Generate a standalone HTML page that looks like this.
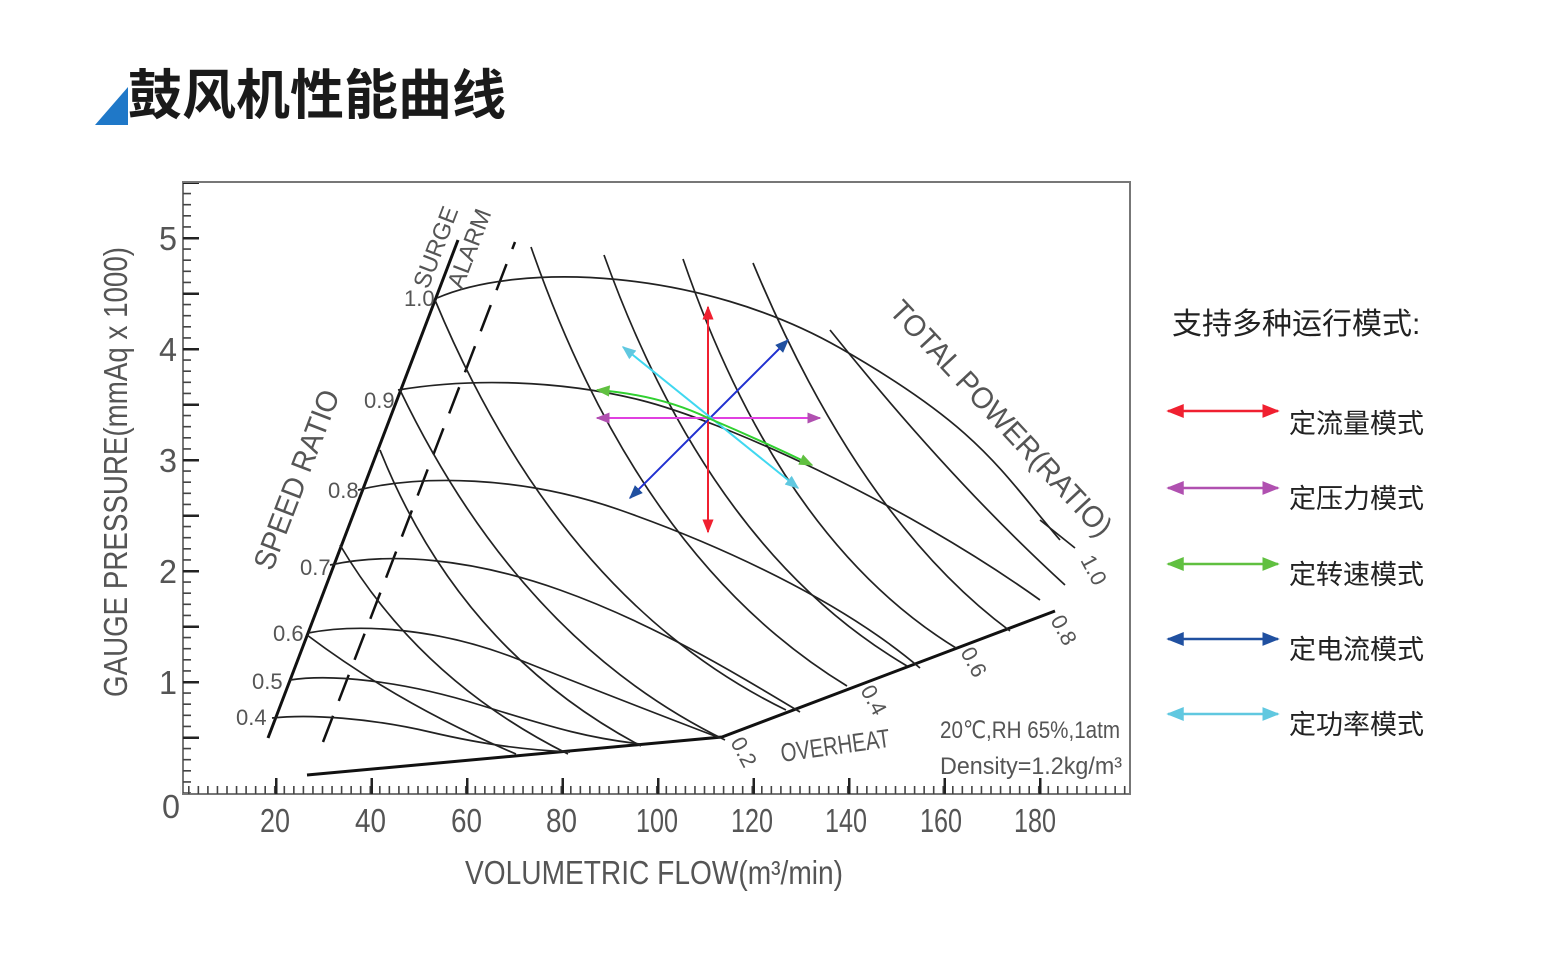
<!DOCTYPE html>
<html><head><meta charset="utf-8"><style>
html,body{margin:0;padding:0;background:#fff;}
svg{display:block}
.ax{font-family:"Liberation Sans","DejaVu Sans",sans-serif;fill:#555;}
</style></head><body>
<svg width="1548" height="972" viewBox="0 0 1548 972" xmlns="http://www.w3.org/2000/svg">
<defs>
<marker id="hr" viewBox="0 0 10 10" refX="9" refY="5" markerWidth="7" markerHeight="7" orient="auto-start-reverse"><path d="M0,1 L10,5 L0,9 Z" fill="#f02030"/></marker>
<marker id="hp" viewBox="0 0 10 10" refX="9" refY="5" markerWidth="7" markerHeight="7" orient="auto-start-reverse"><path d="M0,1 L10,5 L0,9 Z" fill="#b050b0"/></marker>
<marker id="hg" viewBox="0 0 10 10" refX="9" refY="5" markerWidth="7" markerHeight="7" orient="auto-start-reverse"><path d="M0,1 L10,5 L0,9 Z" fill="#60c040"/></marker>
<marker id="hb" viewBox="0 0 10 10" refX="9" refY="5" markerWidth="7" markerHeight="7" orient="auto-start-reverse"><path d="M0,1 L10,5 L0,9 Z" fill="#2050a0"/></marker>
<marker id="hc" viewBox="0 0 10 10" refX="9" refY="5" markerWidth="7" markerHeight="7" orient="auto-start-reverse"><path d="M0,1 L10,5 L0,9 Z" fill="#60c8e0"/></marker>
</defs>

<!-- title -->
<polygon points="95,125 128,87 128,125" fill="#1f78c8"/>
<text x="128" y="114" font-family="'Liberation Sans','Noto Sans CJK SC',sans-serif" font-weight="bold" font-size="54" fill="#1a1a1a">鼓风机性能曲线</text>

<!-- frame -->
<rect x="183" y="182" width="947" height="612" fill="none" stroke="#777" stroke-width="2"/>
<line x1="180" y1="790" x2="1130" y2="790" stroke="#444" stroke-width="8" stroke-dasharray="1.6 7.95" stroke-dashoffset="-8"/>
<line x1="275" y1="786" x2="1130" y2="786" stroke="#222" stroke-width="16" stroke-dasharray="2.5 93"/>
<line x1="187" y1="793" x2="187" y2="183" stroke="#444" stroke-width="8" stroke-dasharray="1.6 9.5" stroke-dashoffset="0.8"/>
<line x1="191" y1="739" x2="191" y2="183" stroke="#222" stroke-width="16" stroke-dasharray="2.5 53"/>

<!-- axis labels -->
<g class="ax" font-size="33" lengthAdjust="spacingAndGlyphs">
<text x="159" y="250" textLength="18" lengthAdjust="spacingAndGlyphs">5</text>
<text x="159" y="361" textLength="18" lengthAdjust="spacingAndGlyphs">4</text>
<text x="159" y="472" textLength="18" lengthAdjust="spacingAndGlyphs">3</text>
<text x="159" y="583" textLength="18" lengthAdjust="spacingAndGlyphs">2</text>
<text x="159" y="694" textLength="18" lengthAdjust="spacingAndGlyphs">1</text>
<text x="162" y="818" textLength="18" lengthAdjust="spacingAndGlyphs">0</text>
<text x="260" y="832" textLength="30" lengthAdjust="spacingAndGlyphs">20</text>
<text x="355" y="832" textLength="31" lengthAdjust="spacingAndGlyphs">40</text>
<text x="451" y="832" textLength="31" lengthAdjust="spacingAndGlyphs">60</text>
<text x="546" y="832" textLength="31" lengthAdjust="spacingAndGlyphs">80</text>
<text x="636" y="832" textLength="42" lengthAdjust="spacingAndGlyphs">100</text>
<text x="731" y="832" textLength="42" lengthAdjust="spacingAndGlyphs">120</text>
<text x="825" y="832" textLength="42" lengthAdjust="spacingAndGlyphs">140</text>
<text x="920" y="832" textLength="42" lengthAdjust="spacingAndGlyphs">160</text>
<text x="1014" y="832" textLength="42" lengthAdjust="spacingAndGlyphs">180</text>
<text x="465" y="884" textLength="378" lengthAdjust="spacingAndGlyphs">VOLUMETRIC FLOW(m³/min)</text>
<text transform="translate(127,697) rotate(-90)" textLength="450" lengthAdjust="spacingAndGlyphs">GAUGE PRESSURE(mmAq x 1000)</text>
</g>

<!-- boundary lines -->
<g fill="none" stroke="#111" stroke-width="3">
<line x1="268" y1="738" x2="458" y2="240"/>
<polyline points="307,775 722,737 1055,611"/>
</g>
<line x1="323" y1="742" x2="515" y2="242" stroke="#111" stroke-width="2.5" stroke-dasharray="28 16"/>

<g fill="none" stroke="#222" stroke-width="1.7">
<path d="M437,298 C520,262 700,268 840,348 S1000,470 1060,540"/>
<path d="M398,390 C470,378 560,380 640,400 S900,500 1040,600"/>
<path d="M358,490 C420,475 520,475 620,510 S840,600 920,668"/>
<path d="M330,565 C390,552 470,558 560,590 S730,670 800,712"/>
<path d="M308,633 C360,623 440,628 520,660 S660,715 720,738"/>
<path d="M290,680 C330,674 400,680 480,705 S590,738 640,744"/>
<path d="M272,718 C310,714 370,718 430,732 S530,750 570,752"/>
<path d="M307,635 Q400,705 516,754"/>
<path d="M340,545 Q420,680 568,754"/>
<path d="M380,450 Q460,650 641,746"/>
<path d="M400,390 Q520,640 725,740"/>
<path d="M435,300 Q560,600 786,710"/>
<path d="M531,247 Q640,560 847,686"/>
<path d="M604,255 Q710,550 907,666"/>
<path d="M683,259 Q780,540 956,648"/>
<path d="M753,263 Q860,520 1010,631"/>
<path d="M830,330 Q950,480 1065,585"/>
<line x1="1040" y1="520" x2="1075" y2="548"/>
</g>

<g class="ax" font-size="22" fill="#333">
<text x="404" y="306">1.0</text>
<text x="364" y="408">0.9</text>
<text x="328" y="498">0.8</text>
<text x="300" y="575">0.7</text>
<text x="273" y="641">0.6</text>
<text x="252" y="689">0.5</text>
<text x="236" y="725">0.4</text>
<text transform="translate(272,572) rotate(-69)" font-size="30" textLength="190" lengthAdjust="spacingAndGlyphs">SPEED RATIO</text>
<text transform="translate(428,290) rotate(-69)" font-size="24">SURGE</text>
<text transform="translate(462,290) rotate(-69)" font-size="24">ALARM</text>
<text transform="translate(888,312) rotate(47)" font-size="30" textLength="310" lengthAdjust="spacingAndGlyphs">TOTAL POWER(RATIO)</text>
<text transform="translate(782,762) rotate(-8)" font-size="26" textLength="110" lengthAdjust="spacingAndGlyphs">OVERHEAT</text>
<text transform="translate(730,742) rotate(62)">0.2</text>
<text transform="translate(860,690) rotate(62)">0.4</text>
<text transform="translate(960,652) rotate(62)">0.6</text>
<text transform="translate(1050,620) rotate(62)">0.8</text>
<text transform="translate(1080,560) rotate(62)">1.0</text>
<text x="940" y="738" font-size="24" textLength="180" lengthAdjust="spacingAndGlyphs">20℃,RH 65%,1atm</text>
<text x="940" y="774" font-size="24" textLength="182" lengthAdjust="spacingAndGlyphs">Density=1.2kg/m³</text>
</g>

<g fill="none" stroke-width="2">
<line x1="708" y1="418" x2="708" y2="307" stroke="#f02030" marker-end="url(#hr)"/>
<line x1="708" y1="418" x2="708" y2="532" stroke="#f02030" marker-end="url(#hr)"/>
<line x1="597" y1="418" x2="820" y2="418" stroke="#e040e0" marker-start="url(#hp)" marker-end="url(#hp)"/>
<line x1="630" y1="498" x2="788" y2="340" stroke="#2030d0" marker-start="url(#hb)" marker-end="url(#hb)"/>
<line x1="623" y1="347" x2="798" y2="488" stroke="#40d8f0" marker-start="url(#hc)" marker-end="url(#hc)"/>
<path d="M597,390 Q660,395 708,418 Q760,440 812,465" stroke="#30d030" marker-start="url(#hg)" marker-end="url(#hg)"/>
</g>

<text x="1172" y="334" font-family="'Liberation Sans','Noto Sans CJK SC',sans-serif" font-size="30" fill="#222">支持多种运行模式:</text>
<g stroke-width="2.5">
<line x1="1168" y1="411" x2="1278" y2="411" stroke="#f02030" marker-start="url(#hr)" marker-end="url(#hr)"/>
<line x1="1168" y1="488" x2="1278" y2="488" stroke="#b050b0" marker-start="url(#hp)" marker-end="url(#hp)"/>
<line x1="1168" y1="564" x2="1278" y2="564" stroke="#60c040" marker-start="url(#hg)" marker-end="url(#hg)"/>
<line x1="1168" y1="639" x2="1278" y2="639" stroke="#2050a0" marker-start="url(#hb)" marker-end="url(#hb)"/>
<line x1="1168" y1="714" x2="1278" y2="714" stroke="#60c8e0" marker-start="url(#hc)" marker-end="url(#hc)"/>
</g>
<g font-family="'Liberation Sans','Noto Sans CJK SC',sans-serif" font-size="27" fill="#222">
<text x="1289" y="433">定流量模式</text>
<text x="1289" y="508">定压力模式</text>
<text x="1289" y="584">定转速模式</text>
<text x="1289" y="659">定电流模式</text>
<text x="1289" y="734">定功率模式</text>
</g>
</svg>
</body></html>
